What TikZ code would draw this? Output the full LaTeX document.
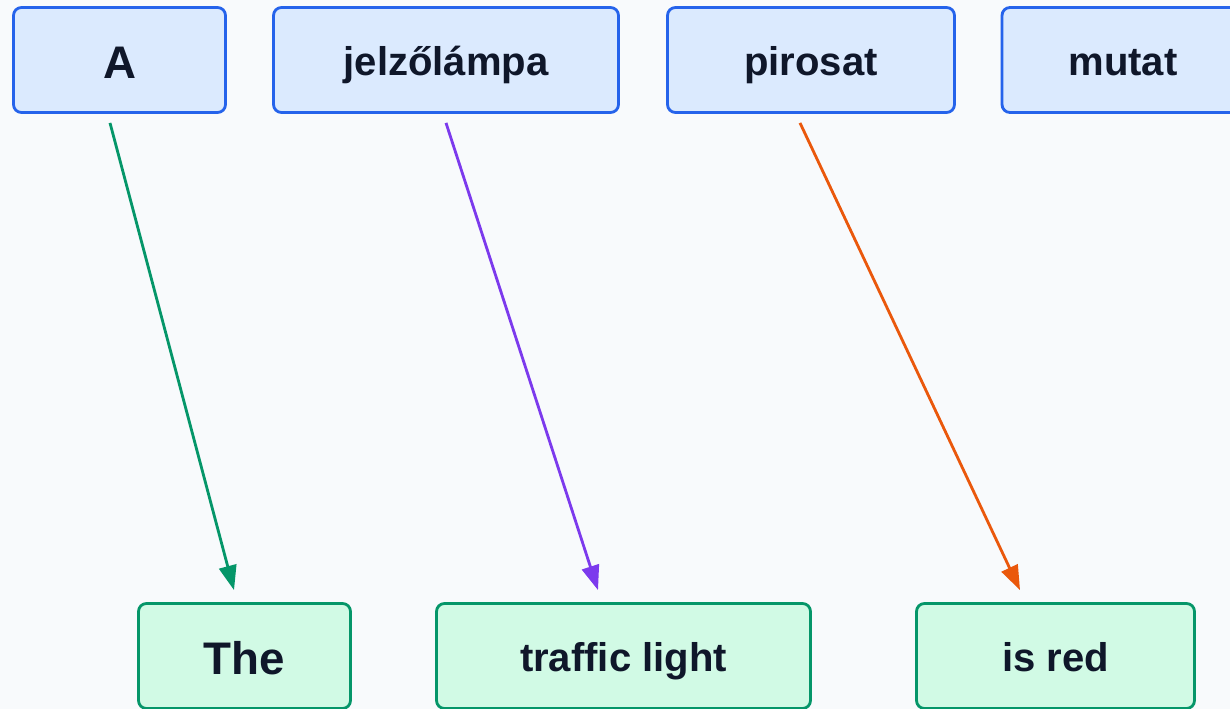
\documentclass[tikz,border=0pt]{standalone}
\usepackage{fontspec}
\setmainfont{Liberation Sans}
\usetikzlibrary{positioning,calc,arrows.meta}
\definecolor{bgpage}{HTML}{F8FAFC}
\definecolor{srcfill}{HTML}{DBEAFE}
\definecolor{srcline}{HTML}{2563EB}
\definecolor{tgtfill}{HTML}{D1FAE5}
\definecolor{tgtline}{HTML}{059669}
\definecolor{ink}{HTML}{0F172A}
\definecolor{lgreen}{HTML}{059669}
\definecolor{lpurple}{HTML}{7C3AED}
\definecolor{lorange}{HTML}{EA580C}
\tikzset{
  word/.style={rounded corners=4.5pt,line width=1.6pt,minimum height=2.1cm,
    text height=18.2pt,text depth=0pt,
    text=ink,font=\bfseries\fontsize{22.8}{27}\selectfont},
  src/.style={word,draw=srcline,fill=srcfill},
  tgt/.style={word,draw=tgtline,fill=tgtfill},
  big/.style={font=\bfseries\fontsize{26}{30}\selectfont,text height=20.5pt},
  link/.style={line width=1.6pt,draw=#1,-{Triangle[length=14pt,width=10pt]}}
}

\begin{document}
\begin{tikzpicture}[x=0.02cm,y=-0.02cm]
\clip (0,0) rectangle (1230,709);
\fill[bgpage] (0,0) rectangle (1230,709);
% source words
\node[src,big,minimum width=4.24cm] (A) at (119.5,60) {A};
\node[src,minimum width=6.9cm] (jel) at (446,60) {jelzőlámpa};
\node[src,minimum width=5.74cm] (pir) at (811,60) {pirosat};
\node[src,minimum width=4.84cm] (mut) at (1123,60) {mutat};
% target words
\node[tgt,big,minimum width=4.24cm] (The) at (244.5,656) {The};
\node[tgt,minimum width=7.48cm] (traf) at (623.5,656) {traffic light};
\node[tgt,minimum width=5.56cm] (red) at (1055.5,656) {is red};
% alignment links
\draw[link=lgreen] ($(A.south)+(-9.5,9)$) -- ($(The.north)+(-10.5,-12)$);
\draw[link=lpurple] ($(jel.south)+(0,9)$) -- ($(traf.north)+(-25.5,-12)$);
\draw[link=lorange] ($(pir.south)+(-11,9)$) -- ($(red.north)+(-35.5,-12)$);
\end{tikzpicture}
\end{document}
